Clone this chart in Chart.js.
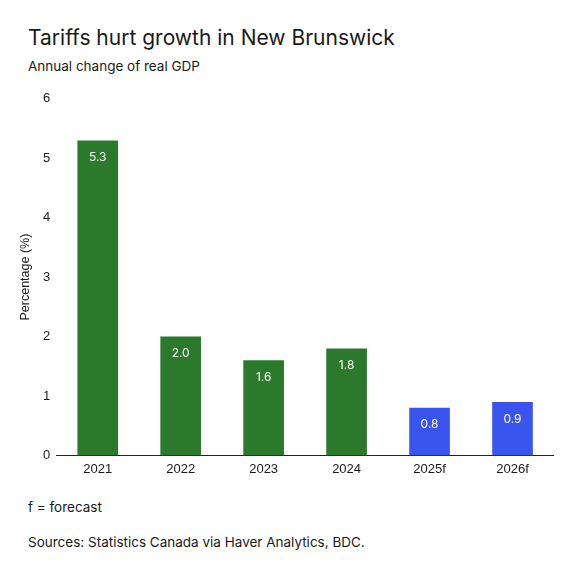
<!DOCTYPE html>
<html><head><meta charset="utf-8">
<script src="https://cdn.jsdelivr.net/npm/chart.js@4"></script>
<style>
body{margin:0;width:575px;height:575px;background:#fff;font-family:Inter,"Noto Sans",sans-serif;color:#1a1a1a;position:relative;overflow:hidden}
#t{position:absolute;left:28px;top:25px;font-size:21px;font-weight:400}
#s{position:absolute;left:28px;top:58px;font-size:13.5px}
#f1{position:absolute;left:28px;top:499px;font-size:13.5px}
#f2{position:absolute;left:28px;top:534px;font-size:13.5px}
#w{position:absolute;left:14px;top:85px;width:540px;height:398px}
</style></head><body>
<div id="t">Tariffs hurt growth in New Brunswick</div>
<div id="s">Annual change of real GDP</div>
<div id="w"><canvas id="c"></canvas></div>
<div id="f1">f = forecast</div>
<div id="f2">Sources: Statistics Canada via Haver Analytics, BDC.</div>
<script>
const categories=["2021","2022","2023","2024","2025f","2026f"];
const values=[5.3,2.0,1.6,1.8,0.8,0.9];
const labels=["5.3","2.0","1.6","1.8","0.8","0.9"];
const colors=["#2b7a2b","#2b7a2b","#2b7a2b","#2b7a2b","#3a55ee","#3a55ee"];
const lbl={id:'lbl',afterDatasetsDraw(ch){const ctx=ch.ctx;ch.getDatasetMeta(0).data.forEach((b,i)=>{ctx.save();ctx.fillStyle='#fff';ctx.font='12px Inter, sans-serif';ctx.textAlign='center';ctx.textBaseline='top';ctx.fillText(labels[i],b.x,b.y+11);ctx.restore();});}};
new Chart(document.getElementById('c'),{type:'bar',data:{labels:categories,datasets:[{data:values,backgroundColor:colors,barPercentage:0.49,categoryPercentage:1}]},
options:{responsive:true,maintainAspectRatio:false,animation:false,layout:{padding:{top:6,right:0}},
plugins:{legend:{display:false},tooltip:{enabled:false}},
scales:{x:{grid:{display:false,drawTicks:false},border:{display:true,color:'#222'},ticks:{color:'#1a1a1a',font:{size:13},padding:6}},
y:{min:0,max:6,ticks:{stepSize:1,color:'#1a1a1a',font:{size:13},padding:6},grid:{display:false,drawTicks:false},border:{display:false},
title:{display:true,text:'Percentage (%)',color:'#1a1a1a',font:{size:12.5}}}}},plugins:[lbl]});
</script></body></html>
